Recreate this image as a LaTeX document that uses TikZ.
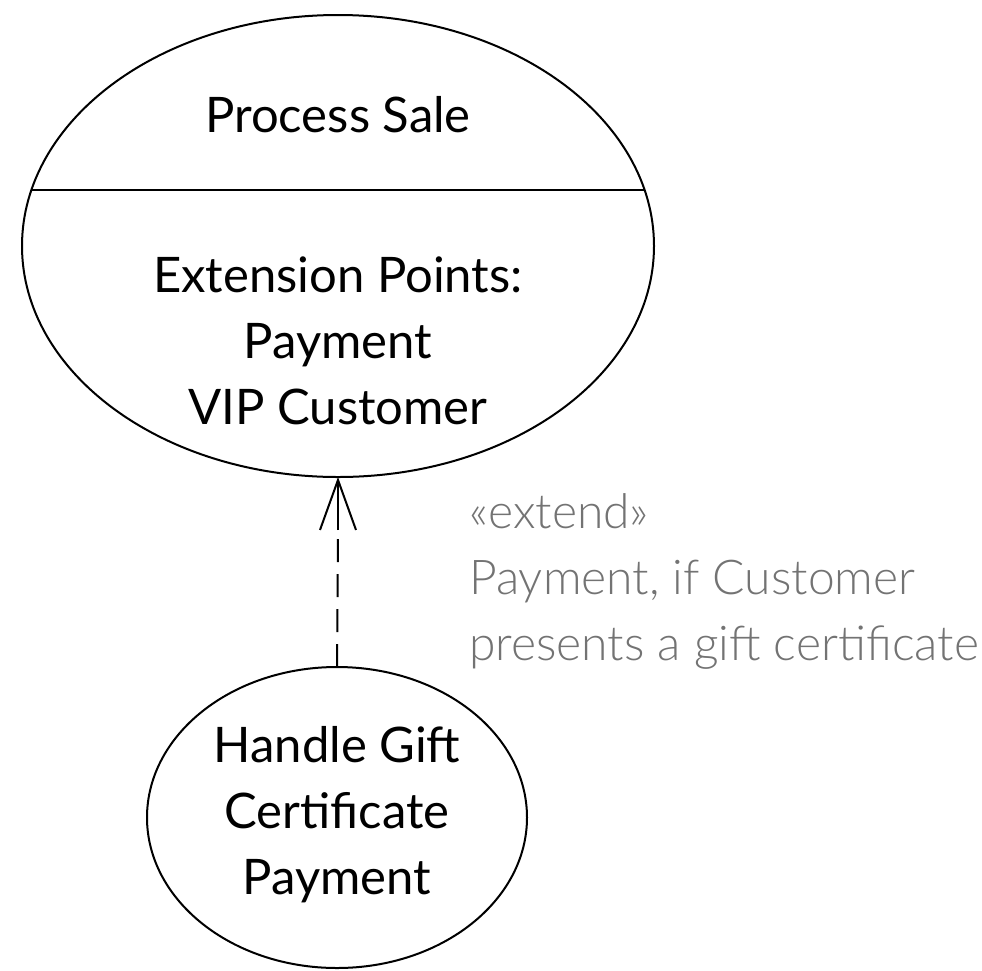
\documentclass[tikz,border=0pt]{standalone}
\usepackage{fontspec}
\setmainfont{Lato}
\newfontfamily\lightfont{Lato Light}
\usetikzlibrary{shapes.geometric,arrows.meta,calc}

\tikzset{
  usecase/.style={draw, ellipse, line width=2pt, inner sep=0pt, outer sep=0pt},
  ucname/.style={anchor=base, inner sep=0pt, font=\fontsize{49}{66}\selectfont},
  note/.style={anchor=base west, inner sep=0pt, align=left, text=black!55,
    font=\lightfont\fontsize{48}{66}\selectfont},
  dashline/.style={line width=2pt, dash pattern=on 23pt off 12pt},
}

\begin{document}
\begin{tikzpicture}[x=1pt, y=-1pt]
  \useasboundingbox (0,0) rectangle (982,970);

  % base use case with its extension-point compartment
  \node[usecase, minimum width=632pt, minimum height=462pt] (sale) at (338,246) {};
  \coordinate (divl) at ($(sale.center)+(-306.6,-56)$);
  \coordinate (divr) at ($(sale.center)+(306.6,-56)$);
  \draw[line width=2pt] (divl) -- (divr);
  \node[ucname] (saletitle) at (338,132) {Process Sale};
  \node[ucname] (ext1) at (338,292) {Extension Points:};
  \node[ucname] (ext2) at (338,358) {Payment};
  \node[ucname] (ext3) at (338,424) {VIP Customer};

  % extending use case
  \node[usecase, minimum width=380pt, minimum height=301pt] (gift) at (337,817.5) {};
  \node[ucname] (gift1) at (337,762) {Handle Gift};
  \node[ucname] (gift2) at (337,828) {Certificate};
  \node[ucname] (gift3) at (337,894) {Payment};

  % extend relationship
  \coordinate (stem) at ($(sale.south)+(0,53)$);
  \draw[dashline] (gift.north) -- (stem);
  \draw[line width=2pt, -{Straight Barb[length=50pt, width=36pt, line join=miter]}]
    (stem) -- (sale.south);

  % condition label (base anchor sits on its last line)
  \node[note] (cond) at (469,660)
    {«extend»\\Payment, if Customer\\presents a gift certificate};
\end{tikzpicture}
\end{document}
